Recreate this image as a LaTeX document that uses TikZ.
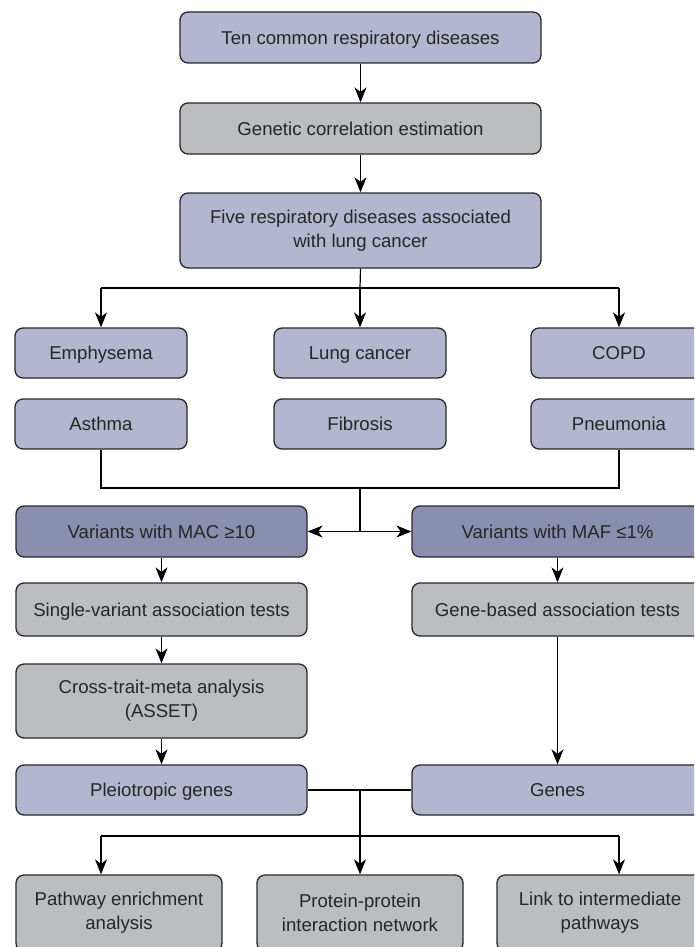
\documentclass[tikz,border=0pt]{standalone}
\usepackage{fontspec}
\setmainfont{Liberation Sans}
\usetikzlibrary{positioning, calc, arrows.meta}
\definecolor{lavender}{RGB}{179,182,207}
\definecolor{greybox}{RGB}{188,189,192}
\definecolor{variant}{RGB}{138,143,176}
\definecolor{edge}{RGB}{40,40,40}

\begin{document}
\begin{tikzpicture}[x=1pt, y=-1pt,
      box/.style={draw=edge, line width=1.3pt, rounded corners=8pt, fill=lavender, align=center, inner sep=2pt, text=black!85, font=\fontsize{18.6}{24}\selectfont},
      oneline/.style={text height=13.3pt, text depth=0pt},
      method/.style={box, fill=greybox},
      filter/.style={box, fill=variant},
      arrow/.style={-{Stealth[length=15pt, width=12pt, inset=4.5pt]}, line width=1.2pt},
      link/.style={line width=1.2pt}
    ]
    \useasboundingbox (0,0) rectangle (694,947);
    \clip (0,0) rectangle (694,947);

    % Top column
    \node[box, oneline, minimum width=361pt, minimum height=51pt] (ten) at (360.5,37.5) {Ten common respiratory diseases};
    \node[method, oneline, minimum width=361pt, minimum height=51pt] (gcorr) at (360.5,128.5) {Genetic correlation estimation};
    \node[box, minimum width=361pt, minimum height=75pt] (five) at (360.5,230.5) {Five respiratory diseases associated\\with lung cancer};

    % Diseases
    \node[box, oneline, minimum width=172pt, minimum height=50pt] (emph) at (101,353) {Emphysema};
    \node[box, oneline, minimum width=172pt, minimum height=50pt] (lung) at (360,353) {Lung cancer};
    \node[box, oneline, minimum width=176pt, minimum height=50pt] (copd) at (619,353) {COPD};
    \node[box, oneline, minimum width=172pt, minimum height=50pt] (asthma) at (101,424) {Asthma};
    \node[box, oneline, minimum width=172pt, minimum height=50pt] (fibro) at (360,424) {Fibrosis};
    \node[box, oneline, minimum width=176pt, minimum height=50pt] (pneu) at (619,424) {Pneumonia};

    % Left column (single variants)
    \node[filter, oneline, minimum width=291pt, minimum height=51pt] (mac) at (161.5,531.5) {Variants with MAC ≥10};
    \node[method, oneline, minimum width=291pt, minimum height=53pt] (single) at (161.5,609.5) {Single-variant association tests};
    \node[method, minimum width=291pt, minimum height=74pt] (asset) at (161.5,701) {Cross-trait-meta analysis\\(ASSET)};
    \node[box, oneline, minimum width=291pt, minimum height=50pt] (pleio) at (161.5,790) {Pleiotropic genes};

    % Right column (gene-based)
    \node[filter, oneline, minimum width=291pt, minimum height=51pt] (maf) at (557.5,531.5) {Variants with MAF ≤1\%};
    \node[method, oneline, minimum width=291pt, minimum height=53pt] (gbased) at (557.5,609.5) {Gene-based association tests};
    \node[box, oneline, minimum width=291pt, minimum height=50pt] (genes) at (557.5,790) {Genes};

    % Downstream analyses
    \node[method, minimum width=206pt, minimum height=76pt] (pathway) at (119,913) {Pathway enrichment\\analysis};
    \node[method, minimum width=206pt, minimum height=76pt] (ppi) at (360,913) {Protein-protein\\interaction network};
    \node[method, minimum width=206pt, minimum height=76pt] (inter) at (600,913) {Link to intermediate\\pathways};

    % Core flow
    \draw[arrow] (ten.south) -- (gcorr.north);
    \draw[arrow] (gcorr.south) -- (five.north);

    % Split into diseases
    \coordinate (fork) at (360,288);
    \draw[link] (five.south) -- (fork);
    \draw[link] (emph.north |- fork) -- (copd.north |- fork);
    \draw[arrow] (emph.north |- fork) -- (emph.north);
    \draw[arrow] (fork) -- (lung.north);
    \draw[arrow] (copd.north |- fork) -- (copd.north);

    % Merge into variant sets
    \coordinate (join) at (360,488);
    \draw[link] (asthma.south) |- (join) -| (pneu.south);
    \draw[link] (join) -- (join |- mac.east);
    \draw[arrow] (join |- mac.east) -- (mac.east);
    \draw[arrow] (join |- mac.east) -- (maf.west);

    \draw[arrow] (mac.south) -- (single.north);
    \draw[arrow] (single.south) -- (asset.north);
    \draw[arrow] (asset.south) -- (pleio.north);
    \draw[arrow] (maf.south) -- (gbased.north);
    \draw[arrow] (gbased.south) -- (genes.north);

    % Genes to analyses
    \draw[link] (pleio.east) -- (genes.west);
    \coordinate (merge) at (360,790);
    \coordinate (spread) at (360,836);
    \draw[arrow] (merge) -- (ppi.north);
    \draw[link] (emph |- spread) -- (pneu |- spread);
    \draw[arrow] (emph |- spread) -- (emph |- pathway.north);
    \draw[arrow] (pneu |- spread) -- (pneu |- inter.north);

  \end{tikzpicture}
\end{document}
